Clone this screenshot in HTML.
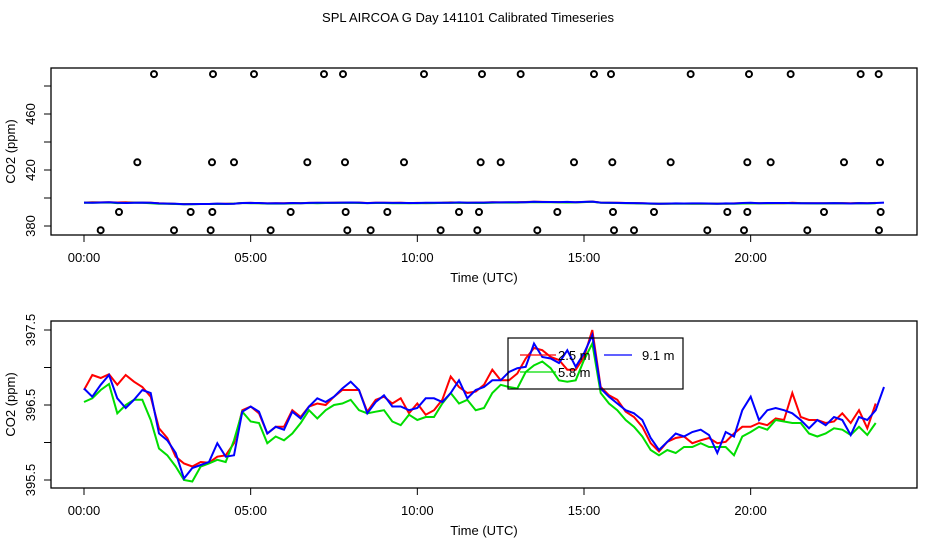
<!DOCTYPE html>
<html><head><meta charset="utf-8"><style>
body{margin:0;background:#fff}
svg text{font-family:"Liberation Sans",sans-serif;font-size:13px;fill:#000}
</style></head><body>
<svg id="c" width="936" height="540" viewBox="0 0 936 540"></svg>
<script>
const red=[396.70,396.90,396.86,396.91,396.77,396.90,396.81,396.74,396.61,396.19,396.06,395.81,395.72,395.68,395.74,395.73,395.81,395.83,395.99,396.43,396.48,396.39,396.12,396.21,396.21,396.43,396.34,396.48,396.52,396.50,396.61,396.70,396.70,396.70,396.41,396.57,396.61,396.52,396.59,396.39,396.52,396.37,396.43,396.57,396.88,396.74,396.66,396.68,396.77,396.97,396.83,396.83,396.92,397.12,397.26,397.23,397.14,397.10,396.97,396.97,397.14,397.50,396.74,396.63,396.57,396.41,396.34,396.21,395.99,395.88,396.01,396.06,396.08,395.99,396.03,396.06,395.99,396.01,396.12,396.21,396.21,396.26,396.23,396.32,396.30,396.66,396.34,396.30,396.30,396.26,396.28,396.39,396.26,396.43,396.19,396.52];
const green=[396.54,396.59,396.70,396.78,396.39,396.50,396.57,396.57,396.30,395.92,395.83,395.68,395.50,395.48,395.68,395.72,395.77,395.74,396.03,396.41,396.28,396.26,395.99,396.08,396.03,396.12,396.26,396.43,396.32,396.43,396.50,396.52,396.57,396.43,396.39,396.41,396.43,396.28,396.23,396.37,396.30,396.34,396.34,396.52,396.66,396.52,396.57,396.43,396.46,396.66,396.77,396.74,396.72,396.94,397.03,397.08,396.99,396.83,396.81,396.83,397.10,397.32,396.66,396.52,396.43,396.30,396.21,396.08,395.90,395.83,395.90,395.86,395.94,395.94,395.99,395.94,395.94,395.94,395.83,396.08,396.14,396.21,396.17,396.30,396.28,396.26,396.26,396.12,396.08,396.12,396.19,396.17,396.10,396.21,396.10,396.26];
const blue=[396.72,396.61,396.77,396.90,396.59,396.46,396.57,396.70,396.66,396.12,396.03,395.86,395.52,395.66,395.70,395.74,395.99,395.81,395.83,396.41,396.48,396.41,396.12,396.21,396.17,396.41,396.32,396.48,396.59,396.54,396.61,396.72,396.81,396.70,396.39,396.54,396.63,396.48,396.48,396.43,396.46,396.59,396.59,396.54,396.66,396.83,396.59,396.70,396.74,396.83,396.83,396.94,396.99,397.01,397.32,397.14,397.12,397.06,397.23,397.01,397.19,397.43,396.72,396.61,396.52,396.43,396.39,396.30,396.06,395.90,396.01,396.12,396.08,396.14,396.17,396.10,395.86,396.14,396.08,396.43,396.61,396.30,396.43,396.46,396.43,396.39,396.30,396.19,396.30,396.23,396.34,396.30,396.10,396.34,396.30,396.43,396.74];
const stepHours=0.25;
const outTimes=[0.5,2.7,3.8,5.6,7.9,8.6,10.7,11.8,13.6,15.9,16.5,18.7,19.8,21.7,23.85, 1.05,3.2,3.85,6.2,7.85,9.1,11.25,11.85,14.2,15.87,17.1,19.3,19.9,22.2,23.9, 1.6,3.84,4.5,6.7,7.83,9.6,11.9,12.5,14.7,15.85,17.6,19.9,20.6,22.8,23.88, 2.1,3.87,5.1,7.2,7.77,10.2,11.94,13.1,15.3,15.81,18.2,19.95,21.2,23.3,23.84];
const outValues=[377,377,377,377,377,377,377,377,377,377,377,377,377,377,377, 390,390,390,390,390,390,390,390,390,390,390,390,390,390,390, 425.5,425.5,425.5,425.5,425.5,425.5,425.5,425.5,425.5,425.5,425.5,425.5,425.5,425.5,425.5, 488.5,488.5,488.5,488.5,488.5,488.5,488.5,488.5,488.5,488.5,488.5,488.5,488.5,488.5,488.5];
const hourTicks=[0,5,10,15,20];
const hourLabels=["00:00","05:00","10:00","15:00","20:00"];
const topTicks=[380,400,420,440,460,480];
const topLabels=["380","","420","","460",""];
const botTicks=[395.5,396,396.5,397,397.5];
const botLabels=["395.5","","396.5","","397.5"];

const NS="http://www.w3.org/2000/svg";
const svg=document.getElementById('c');
function mk(tag,at,parent){const e=document.createElementNS(NS,tag);for(const k in at)e.setAttribute(k,at[k]);(parent||svg).appendChild(e);return e;}
const X=t=>84+t*33.333;
const Ytop=v=>226-(v-380)*1.4;
const Ybot=v=>480-(v-395.5)*75;

let t=mk('text',{x:468,y:22,'text-anchor':'middle'});t.textContent='SPL AIRCOA G  Day 141101  Calibrated Timeseries';



function panel(name,top,bottom,Y,ticks,labels){
  const g=mk('g',{});
  
  
  const r=mk('rect',{x:51,y:top,width:866,height:bottom-top,fill:'none',stroke:'#000','stroke-width':1.3},g);
  
  
  hourTicks.forEach((h,i)=>{
    mk('line',{x1:X(h),x2:X(h),y1:bottom,y2:bottom+7,stroke:'#000'},g);
    const tx=mk('text',{x:X(h),y:bottom+27,'text-anchor':'middle'},g);tx.textContent=hourLabels[i];
    
    
  });
  mk('line',{x1:X(0),x2:X(20),y1:bottom,y2:bottom,stroke:'#000'},g);
  const xl=mk('text',{x:484,y:bottom+47,'text-anchor':'middle'},g);xl.textContent='Time (UTC)';
  
  
  ticks.forEach((v,i)=>{
    mk('line',{x1:44,x2:51,y1:Y(v),y2:Y(v),stroke:'#000'},g);
    if(labels[i]){const tl=mk('text',{x:0,y:0,'text-anchor':'middle',transform:`translate(35,${Y(v)}) rotate(-90)`},g);tl.textContent=labels[i];
      
      }
  });
  const yl=mk('text',{x:0,y:0,'text-anchor':'middle',transform:`translate(15,${(top+bottom)/2}) rotate(-90)`},g);yl.textContent='CO2 (ppm)';
  
  
  const series=[[red,'#ff0000','',"series-2-5m"],[green,'#00dd00','',"series-5-8m"],[blue,'#0000ff','',"series-9-1m"]];
  series.forEach(([arr,col,da,nm])=>{
    const pts=arr.map((v,i)=>X(i*stepHours).toFixed(1)+','+Y(v).toFixed(1)).join(' ');
    const p=mk('polyline',{points:pts,fill:'none',stroke:col,'stroke-width':2},g);
    
    
  });
  return g;
}
panel('top',68,235,Ytop,topTicks,topLabels);
outTimes.forEach((h,i)=>{
  const c=mk('circle',{cx:X(h),cy:Ytop(outValues[i]),r:3,fill:'none',stroke:'#000','stroke-width':2});
  
  
});
panel('bottom',321,488,Ybot,botTicks,botLabels);

const lg=mk('g',{});


mk('rect',{x:508,y:338,width:175,height:51,fill:'none',stroke:'#000','stroke-width':1.2},lg);
const ents=[[520,556,355,'#ff0000','2.5 m',558,'legend-entry-2-5m'],[520,556,372,'#00dd00','5.8 m',558,'legend-entry-5-8m'],[604,632,355,'#0000ff','9.1 m',642,'legend-entry-9-1m']];
ents.forEach(([a,b,y,col,txt,tx,nm])=>{
  const e=mk('g',{},lg);
  
  
  mk('line',{x1:a,x2:b,y1:y,y2:y,stroke:col,'stroke-width':1.2},e);
  const tt=mk('text',{x:tx,y:y+5},e);tt.textContent=txt;
});
</script>
</body></html>
